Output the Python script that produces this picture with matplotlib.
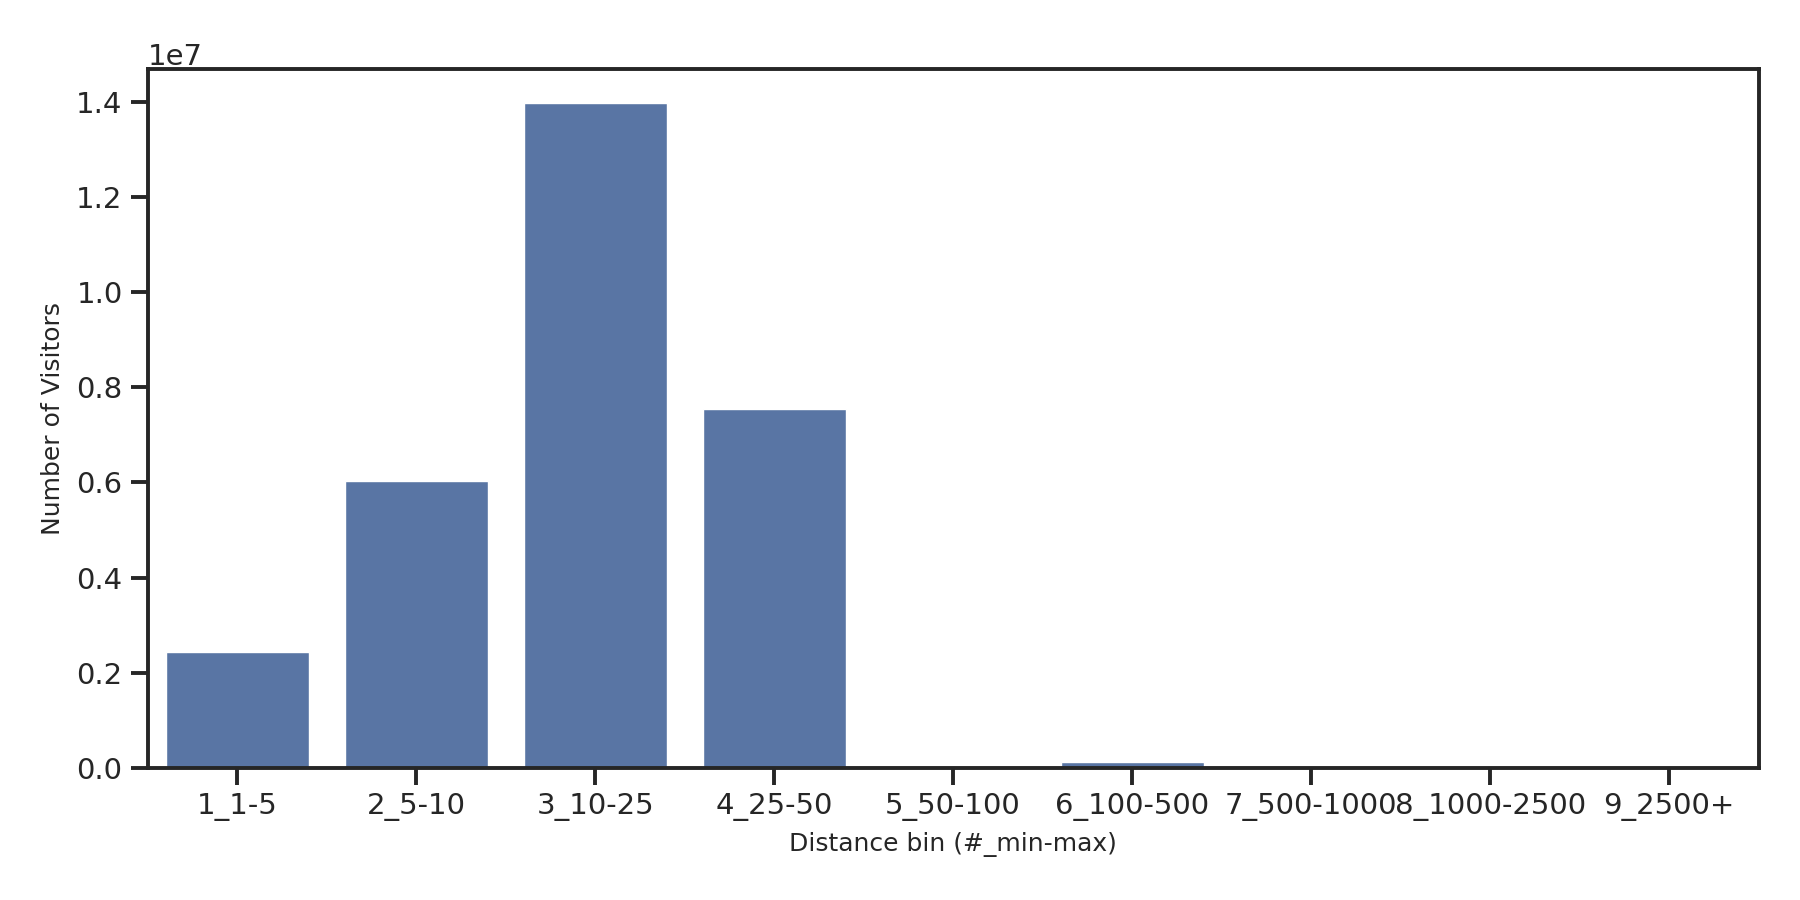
import numpy as np
import matplotlib
matplotlib.use("Agg")
import matplotlib.pyplot as plt
import seaborn as sns

sns.set_theme(style="ticks")

bins = ["1_1-5", "2_5-10", "3_10-25", "4_25-50", "5_50-100",
        "6_100-500", "7_500-1000", "8_1000-2500", "9_2500+"]
visitors = [2440000, 6020000, 13990000, 7540000, 0,
            115000, 0, 0, 0]

fig = plt.figure(figsize=(18, 9), dpi=100)
ax = fig.add_axes([0.082, 0.147, 0.895, 0.776])

sns.barplot(x=bins, y=visitors, color="#4c72b0", saturation=0.75, ax=ax)

ax.set_xlabel("Distance bin (#_min-max)", fontsize=18, labelpad=8)
ax.set_ylabel("Number of Visitors", fontsize=18, labelpad=8)
ax.tick_params(axis="both", labelsize=21, length=12, width=2.8, pad=6,
               color="#262626")
ax.yaxis.get_offset_text().set_fontsize(21)
for s in ax.spines.values():
    s.set_linewidth(2.8)
    s.set_color("#262626")

fig.savefig("out.png")
